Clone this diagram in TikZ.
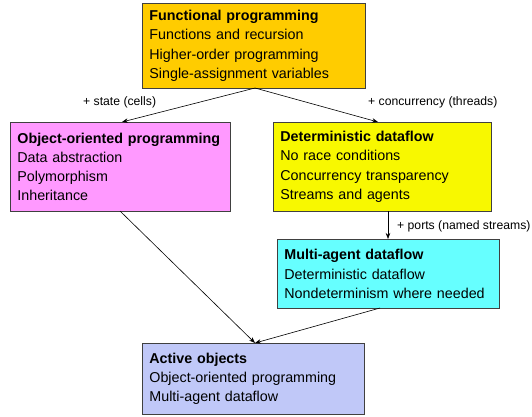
\documentclass[tikz,border=0pt]{standalone}
\usepackage{fontspec}
\setmainfont{Liberation Sans}
\usetikzlibrary{arrows.meta}
\definecolor{cfun}{HTML}{FFCC00}
\definecolor{coop}{HTML}{FF99FF}
\definecolor{cdet}{HTML}{F8F800}
\definecolor{cmul}{HTML}{66FFFF}
\definecolor{cact}{HTML}{C0C8F8}
\begin{document}
\begin{tikzpicture}[x=1pt,y=-1pt,
  box/.style={draw=black!75, line width=0.8pt, anchor=north west, align=left,
    inner xsep=7pt, inner ysep=0pt, font=\fontsize{14.3}{19.3}\selectfont},
  conn/.style={-{Stealth[length=6pt,width=4.5pt]}, line width=0.6pt},
  lab/.style={font=\fontsize{12.2}{14}\selectfont, inner sep=0pt}]
\useasboundingbox (0,0) rectangle (532,416);
\node[box, fill=cfun, minimum width=223pt, minimum height=85pt, text width=209pt] (fun) at (142,3)
  {\textbf{Functional programming}\\Functions and recursion\\Higher-order programming\\Single-assignment variables};
\node[box, fill=coop, minimum width=220pt, minimum height=89pt, text width=206pt] (oop) at (10,122)
  {\textbf{Object-oriented programming}\\Data abstraction\\Polymorphism\\Inheritance};
\node[box, fill=cdet, minimum width=218pt, minimum height=89pt, text width=204pt] (det) at (273,122)
  {\textbf{Deterministic dataflow}\\No race conditions\\Concurrency transparency\\Streams and agents};
\node[box, fill=cmul, minimum width=222pt, minimum height=69pt, text width=208pt] (mul) at (277,239)
  {\textbf{Multi-agent dataflow}\\Deterministic dataflow\\Nondeterminism where needed};
\node[box, fill=cact, minimum width=222pt, minimum height=71pt, text width=208pt] (act) at (142,343)
  {\textbf{Active objects}\\Object-oriented programming\\Multi-agent dataflow};
\coordinate (funB) at (255,88);
\coordinate (oopT) at (122,122);
\coordinate (detT) at (378,122);
\coordinate (detB) at (388,211);
\coordinate (mulT) at (388,239);
\coordinate (oopB) at (120,211);
\coordinate (mulB) at (380,308);
\coordinate (actT) at (255,343);
\draw[conn] (funB) -- (oopT);
\draw[conn] (funB) -- (detT);
\draw[conn] (detB) -- (mulT);
\draw[conn] (oopB) -- (actT);
\draw[conn] (mulB) -- (actT);
\node[lab, anchor=west] (l1) at (83,102) {+ state (cells)};
\node[lab, anchor=west] (l2) at (368,102) {+ concurrency (threads)};
\node[lab, anchor=west] (l3) at (397,226) {+ ports (named streams)};
\end{tikzpicture}
\end{document}
